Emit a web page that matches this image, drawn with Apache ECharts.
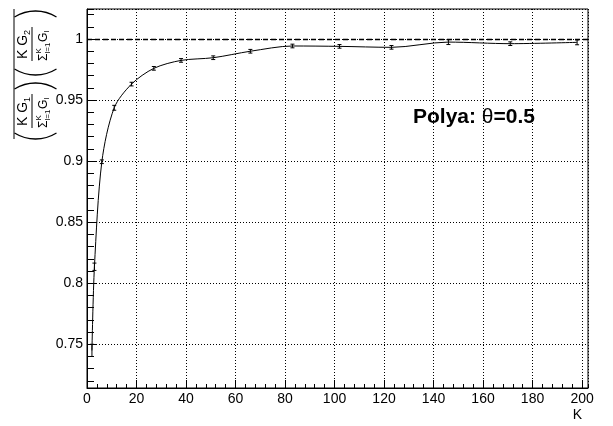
<!DOCTYPE html>
<html lang="en">
<head>
    <meta charset="UTF-8">
    <title>Polya ratio</title>
    <script src="https://cdn.jsdelivr.net/npm/echarts@6/dist/echarts.min.js"></script>
    <style>
        html, body { margin: 0; padding: 0; background: #fff; }
        #main { width: 613px; height: 426px; }
    </style>
</head>
<body>
<div id="main"></div>
<script>
    // K values (n^2 + 2), measured ratio and its error
    var kValues = [2, 3, 6, 11, 18, 27, 38, 51, 66, 83, 102, 123, 146, 171, 198];
    var ratio = [0.745, 0.8135, 0.8995, 0.9437, 0.9631, 0.976, 0.9825, 0.9847, 0.990, 0.9943, 0.9940, 0.9932, 0.9975, 0.9962, 0.9973];
    var ratioErr = [0.005, 0.003, 0.0015, 0.002, 0.0015, 0.0015, 0.0015, 0.0015, 0.0015, 0.0015, 0.0015, 0.0015, 0.002, 0.0015, 0.002];
    var refLevel = 1;

    var font = 'Liberation Sans, Arial, sans-serif';

    var lineData = kValues.map(function (k, i) { return [k, ratio[i]]; });
    var errData = kValues.map(function (k, i) { return [k, ratio[i], ratioErr[i]]; });

    // pieces of the rotated y title, drawn in local coordinates
    function txt(s, x, y, size, align) {
        return {
            type: 'text', x: x, y: y,
            style: { text: s, fontSize: size, fontFamily: font, fill: '#000', align: align || 'left', verticalAlign: 'middle' }
        };
    }
    function frac(cx, idx) {
        return [
            txt('K G', cx - 15, -12, 14),
            txt(idx, cx + 9, -8, 9),
            { type: 'line', shape: { x1: cx - 17, y1: -3.5, x2: cx + 17, y2: -3.5 }, style: { stroke: '#000', lineWidth: 1 } },
            txt('\u03A3', cx - 17, 8, 12),
            txt('K', cx - 9.5, 3.5, 8),
            txt('l=1', cx - 9.5, 12.5, 8),
            txt('G', cx + 2, 8, 12),
            txt('l', cx + 11.5, 11.5, 8)
        ];
    }
    function paren(px, open) {
        var r = 40, a = Math.asin(21 / r);
        var c = open ? px + r - 3 : px - r + 3;
        return {
            type: 'arc',
            shape: { cx: c, cy: 0, r: r, startAngle: open ? Math.PI - a : -a, endAngle: open ? Math.PI + a : a },
            style: { stroke: '#000', lineWidth: 1.3, fill: null }
        };
    }
    var titleParts = [
        { type: 'line', shape: { x1: -64, y1: -21.5, x2: 66, y2: -21.5 }, style: { stroke: '#000', lineWidth: 1 } },
        paren(-61, true), paren(-11, false), paren(3, true), paren(61, false)
    ].concat(frac(-36, '1'), frac(31, '2'));

    var chart = echarts.init(document.getElementById('main'));
    chart.setOption({
        animation: false,
        backgroundColor: '#fff',
        grid: {
            left: 87, right: 25, top: 9, bottom: 38,
            show: true, borderColor: '#000', borderWidth: 1,
            containLabel: false, outerBoundsMode: 'none'
        },
        xAxis: [{
            type: 'value', min: 0, max: 202.4, interval: 20, position: 'bottom',
            name: 'K', nameLocation: 'end', nameGap: -6,
            nameTextStyle: { fontFamily: font, fontSize: 14, color: '#000', align: 'right', verticalAlign: 'top', padding: [20, 0, 0, 0] },
            axisLine: { lineStyle: { color: '#000', width: 1 } },
            axisTick: { inside: true, length: 8, lineStyle: { color: '#000' } },
            axisLabel: { fontFamily: font, fontSize: 14, color: '#000', margin: 4, showMaxLabel: false },
            splitLine: { show: true, lineStyle: { color: '#000', type: [1, 2], width: 1 } }
        }, {
            // minor ticks
            type: 'value', min: 0, max: 202.4, interval: 4, position: 'bottom',
            axisLine: { show: false },
            axisTick: { inside: true, length: 4, lineStyle: { color: '#000' } },
            axisLabel: { show: false },
            splitLine: { show: false }
        }],
        yAxis: [{
            type: 'value', min: 0.7142, max: 1.0246, splitNumber: 6, position: 'left',
            axisLine: { show: true, lineStyle: { color: '#000', width: 1 } },
            axisTick: { inside: true, length: 9, lineStyle: { color: '#000' } },
            axisLabel: { fontFamily: font, fontSize: 14, color: '#000', margin: 4, showMinLabel: false, showMaxLabel: false },
            splitLine: { show: true, lineStyle: { color: '#000', type: [1, 2], width: 1 } }
        }, {
            // minor ticks
            type: 'value', min: 0.7142, max: 1.0246, splitNumber: 31, position: 'left',
            axisLine: { show: false },
            axisTick: { inside: true, length: 7, lineStyle: { color: '#000' } },
            axisLabel: { show: false },
            splitLine: { show: false }
        }],
        series: [{
            type: 'line',
            data: lineData,
            smooth: 0.3,
            showSymbol: false,
            symbol: 'none',
            lineStyle: { color: '#000', width: 1 },
            markLine: {
                silent: true,
                symbol: ['none', 'none'],
                label: { show: false },
                lineStyle: { color: '#000', type: [5, 3], width: 1.3 },
                data: [{ yAxis: refLevel }]
            }
        }, {
            type: 'custom',
            data: errData,
            renderItem: function (params, api) {
                var x = api.value(0), y = api.value(1), e = api.value(2);
                var hi = api.coord([x, y + e]);
                var lo = api.coord([x, y - e]);
                var st = { stroke: '#000', lineWidth: 1 };
                return {
                    type: 'group',
                    children: [
                        { type: 'line', shape: { x1: hi[0], y1: hi[1], x2: lo[0], y2: lo[1] }, style: st },
                        { type: 'line', shape: { x1: hi[0] - 2, y1: hi[1], x2: hi[0] + 2, y2: hi[1] }, style: st },
                        { type: 'line', shape: { x1: lo[0] - 2, y1: lo[1], x2: lo[0] + 2, y2: lo[1] }, style: st }
                    ]
                };
            }
        }],
        graphic: [{
            type: 'text', x: 413, y: 117,
            style: {
                text: '{b|Polya: }{t|\u03B8}{b|=0.5}',
                verticalAlign: 'middle',
                rich: {
                    b: { fontFamily: font, fontSize: 21, fontWeight: 'bold', fill: '#000' },
                    t: { fontFamily: font, fontSize: 21, fill: '#000' }
                }
            }
        }, {
            type: 'group', x: 35.5, y: 75, rotation: Math.PI / 2,
            children: titleParts
        }]
    });
</script>
</body>
</html>
